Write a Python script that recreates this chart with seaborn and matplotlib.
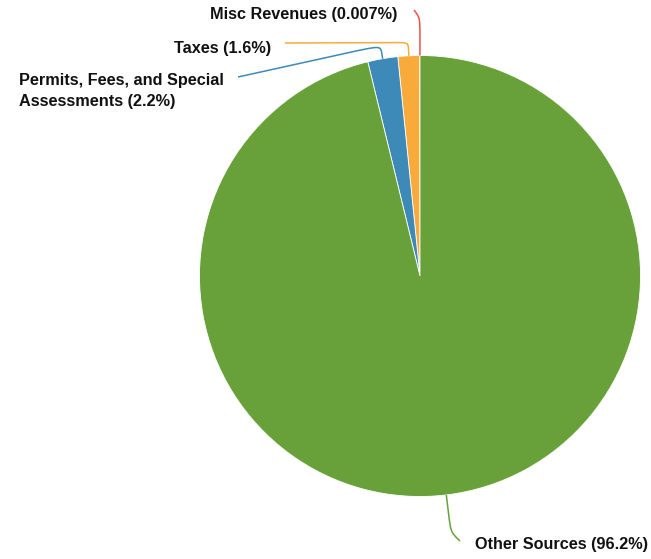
import numpy as np
import matplotlib
matplotlib.use("Agg")
import matplotlib.pyplot as plt
from matplotlib.path import Path
from matplotlib.patches import PathPatch
import seaborn as sns

sns.set_theme(style="white")
plt.rcParams["font.family"] = ["Liberation Sans", "DejaVu Sans"]

# Revenue shares (percent), drawn counter-clockwise from 12 o'clock
categories = ["Misc Revenues", "Taxes", "Permits, Fees, and Special\nAssessments", "Other Sources"]
shares = [0.007, 1.6, 2.2, 96.2]
share_labels = ["0.007%", "1.6%", "2.2%", "96.2%"]
colors = ["#ef5249", "#f8ab3a", "#3d8ab8", "#68a039"]

W, H, DPI = 651, 559, 100
fig = plt.figure(figsize=(W / DPI, H / DPI), dpi=DPI)
ax = fig.add_axes([0, 0, 1, 1])

R_PX = 220.5
CX, CY = 420, 276

wedges, _ = ax.pie(shares, colors=colors, startangle=90, counterclock=True,
                   radius=1.0, center=(0, 0),
                   wedgeprops=dict(edgecolor="white", linewidth=0.6))

ax.set_xlim(-CX / R_PX, (W - CX) / R_PX)
ax.set_ylim(-(H - CY) / R_PX, CY / R_PX)
ax.set_aspect("equal", adjustable="datalim")
ax.axis("off")

def px(x, y):
    return ((x - CX) / R_PX, (CY - y) / R_PX)

# Leader layout: elbow radius, share of the run bent into the curve,
# line end (px), text anchor (px), alignment
leaders = [
    dict(elbow_r=1.17, bend=0.9, end=(414, 10), text=(397, 15), ha="right"),
    dict(elbow_r=1.06, bend=0.12, end=(285, 43), text=(271, 48), ha="right"),
    dict(elbow_r=1.06, bend=0.25, end=(238, 77), text=(224, 91), ha="right"),
    dict(elbow_r=1.17, bend=0.9, end=(460, 541), text=(475, 545), ha="left"),
]

for w, name, lab, col, ld in zip(wedges, categories, share_labels, colors, leaders):
    mid = np.deg2rad((w.theta1 + w.theta2) / 2)
    d = np.array([np.cos(mid), np.sin(mid)])
    p0 = d * 1.0
    elbow = d * ld["elbow_r"]
    end = np.array(px(*ld["end"]))
    a = p0 + (elbow - p0) * 0.45
    b = elbow + (end - elbow) * ld["bend"]
    verts = [tuple(p0), tuple(a), tuple(elbow), tuple(elbow), tuple(b), tuple(end)]
    codes = [Path.MOVETO, Path.LINETO, Path.CURVE4, Path.CURVE4, Path.CURVE4, Path.LINETO]
    ax.add_patch(PathPatch(Path(verts, codes), fill=False, edgecolor=col,
                           linewidth=1.1, zorder=3))
    tx, ty = px(*ld["text"])
    ax.text(tx, ty, f"{name} ({lab})", ha=ld["ha"], va="center",
            multialignment="left", fontsize=11.7, fontweight="bold",
            color="#111111", linespacing=1.5)

fig.savefig("out.png", dpi=DPI)
